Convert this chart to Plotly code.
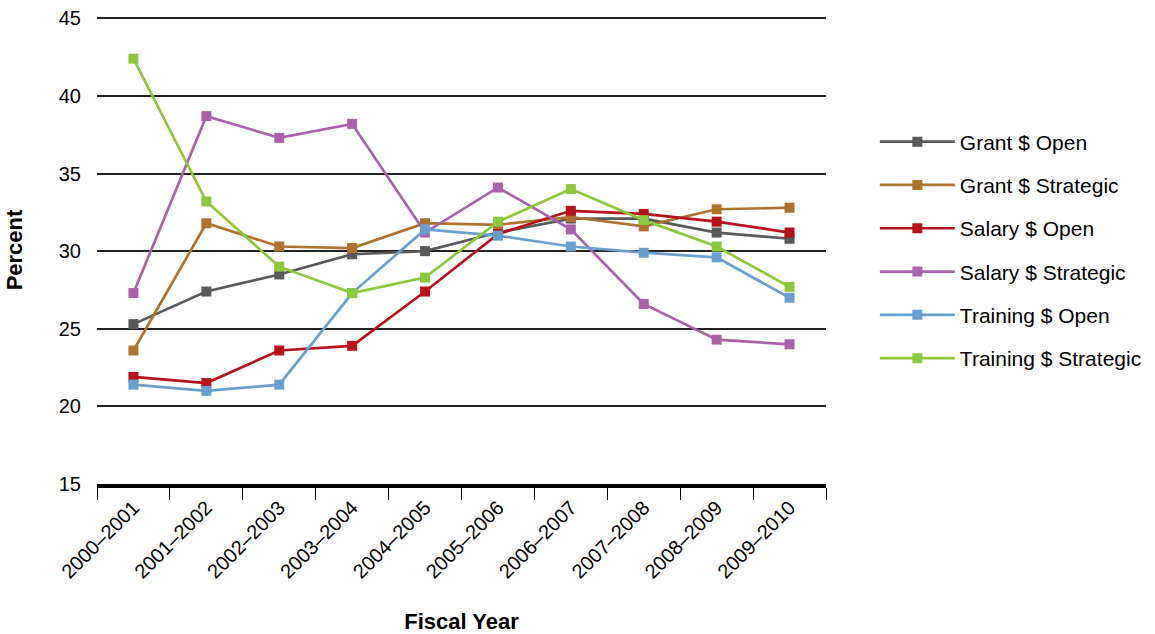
import plotly.graph_objects as go

years = ["2000–2001", "2001–2002", "2002–2003", "2003–2004", "2004–2005",
         "2005–2006", "2006–2007", "2007–2008", "2008–2009", "2009–2010"]

grant_open = [25.3, 27.4, 28.5, 29.8, 30.0, 31.2, 32.1, 32.1, 31.2, 30.8]
grant_strategic = [23.6, 31.8, 30.3, 30.2, 31.8, 31.7, 32.2, 31.6, 32.7, 32.8]
salary_open = [21.9, 21.5, 23.6, 23.9, 27.4, 31.1, 32.6, 32.4, 31.9, 31.2]
salary_strategic = [27.3, 38.7, 37.3, 38.2, 31.2, 34.1, 31.4, 26.6, 24.3, 24.0]
training_open = [21.4, 21.0, 21.4, 27.3, 31.4, 31.0, 30.3, 29.9, 29.6, 27.0]
training_strategic = [42.4, 33.2, 29.0, 27.3, 28.3, 31.9, 34.0, 32.0, 30.3, 27.7]

series = [
    ("Grant $ Open", grant_open, "#58595b"),
    ("Grant $ Strategic", grant_strategic, "#ad7230"),
    ("Salary $ Open", salary_open, "#b5121b"),
    ("Salary $ Strategic", salary_strategic, "#a962a9"),
    ("Training $ Open", training_open, "#6a9ecd"),
    ("Training $ Strategic", training_strategic, "#8dc63f"),
]

fig = go.Figure()
for name, vals, col in series:
    fig.add_trace(go.Scatter(
        x=years, y=vals, name=name, mode="lines+markers",
        line=dict(color=col, width=2.7),
        marker=dict(symbol="square", size=10, color=col),
        legendgroup=name,
    ))

font = "Liberation Sans, Arial, sans-serif"
fig.update_layout(
    width=1155, height=634,
    margin=dict(l=97, r=329, t=16, b=150, autoexpand=False),
    paper_bgcolor="white", plot_bgcolor="white",
    font=dict(family=font, size=20, color="black"),
    showlegend=True,
    legend=dict(x=1.067, xanchor="left", y=0.5, yanchor="middle",
                font=dict(size=21), traceorder="grouped", tracegroupgap=13,
                itemwidth=75,
                bgcolor="rgba(0,0,0,0)"),
)
fig.update_xaxes(
    type="category", range=[-0.5, 9.5], automargin=False,
    tickangle=-45, tickfont=dict(size=20),
    ticks="outside", tickson="boundaries", ticklen=12, tickwidth=1, tickcolor="black",
    showline=True, linecolor="black", linewidth=4,
    showgrid=False,
    title=dict(text="<b>Fiscal Year</b>", font=dict(size=22), standoff=40),
)
fig.update_yaxes(
    range=[15, 45.15], dtick=5, tick0=15, automargin=False,
    showgrid=True, gridcolor="#222222", gridwidth=1.5,
    zeroline=False, showline=False, ticks="",
    tickfont=dict(size=20), ticklabelstandoff=15,
    title=dict(text="<b>Percent</b>", font=dict(size=22), standoff=30),
)

fig.write_html("out.html")
